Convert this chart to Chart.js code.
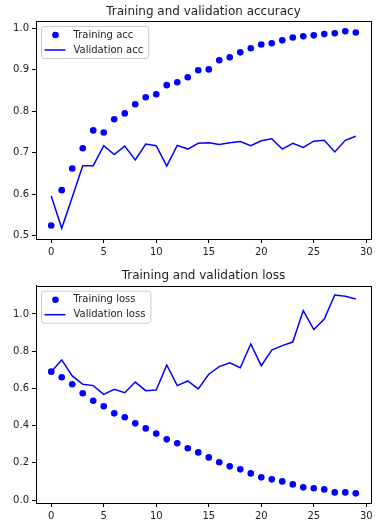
<!DOCTYPE html>
<html>
<head>
<meta charset="utf-8">
<script src="https://cdn.jsdelivr.net/npm/chart.js@4/dist/chart.umd.min.js"></script>
<style>
    html, body { margin: 0; padding: 0; background: #fff; }
    canvas { display: block; }
</style>
</head>
<body>
<canvas id="accChart" width="384" height="262"></canvas>
<canvas id="lossChart" width="384" height="269"></canvas>
<script>
const epochs = [0, 1, 2, 3, 4, 5, 6, 7, 8, 9, 10, 11, 12, 13, 14, 15, 16, 17, 18, 19, 20, 21, 22, 23, 24, 25, 26, 27, 28, 29];

const trainAcc = [0.525, 0.610, 0.662, 0.711, 0.754, 0.749, 0.781, 0.795, 0.817, 0.834,
    0.841, 0.863, 0.870, 0.882, 0.899, 0.901, 0.923, 0.930, 0.942, 0.952,
    0.961, 0.964, 0.971, 0.978, 0.981, 0.983, 0.986, 0.988, 0.993, 0.990];
const valAcc = [0.596, 0.518, 0.593, 0.669, 0.669, 0.717, 0.696, 0.716, 0.683, 0.721,
    0.717, 0.668, 0.718, 0.709, 0.723, 0.724, 0.720, 0.724, 0.727, 0.717,
    0.729, 0.734, 0.709, 0.723, 0.713, 0.728, 0.730, 0.702, 0.730, 0.740];

const trainLoss = [0.690, 0.660, 0.622, 0.574, 0.534, 0.504, 0.466, 0.445, 0.412, 0.385,
    0.357, 0.326, 0.305, 0.278, 0.256, 0.229, 0.203, 0.181, 0.165, 0.143,
    0.122, 0.111, 0.100, 0.084, 0.068, 0.063, 0.057, 0.041, 0.041, 0.036];
const valLoss = [0.690, 0.753, 0.667, 0.622, 0.615, 0.568, 0.595, 0.577, 0.634, 0.588,
    0.591, 0.726, 0.615, 0.640, 0.597, 0.676, 0.717, 0.738, 0.711, 0.839,
    0.722, 0.806, 0.830, 0.849, 1.018, 0.916, 0.973, 1.102, 1.095, 1.081];

const xTicks = [0, 5, 10, 15, 20, 25, 30];
const accTicks = [0.5, 0.6, 0.7, 0.8, 0.9, 1.0];
const lossTicks = [0.0, 0.2, 0.4, 0.6, 0.8, 1.0];

const FONT = 'DejaVu Sans';
const TEXT = '#222';

// moldura completa + título + legenda dentro do eixo (estilo matplotlib)
const mplPlugin = {
    id: 'mpl',
    afterDraw(chart, args, opts) {
        const ctx = chart.ctx;
        const area = chart.chartArea;
        ctx.save();

        ctx.strokeStyle = '#000';
        ctx.lineWidth = 1;
        ctx.strokeRect(Math.round(area.left) + 0.5, Math.round(area.top) + 0.5,
            Math.round(area.right - area.left), Math.round(area.bottom - area.top));

        ctx.fillStyle = TEXT;
        ctx.font = `12px "${FONT}"`;
        ctx.textAlign = 'center';
        ctx.textBaseline = 'middle';
        ctx.fillText(opts.title, (area.left + area.right) / 2, opts.titleY);

        // legenda
        ctx.font = `10px "${FONT}"`;
        const labels = chart.data.datasets.map(d => d.label);
        const textW = Math.max(...labels.map(l => ctx.measureText(l).width));
        const bx = area.left + 5.5;
        const by = area.top + 5.5;
        const bw = 32 + textW + 5.5;
        const bh = 32;

        ctx.beginPath();
        ctx.roundRect(bx, by, bw, bh, 2.5);
        ctx.fillStyle = 'rgba(255,255,255,0.8)';
        ctx.fill();
        ctx.strokeStyle = '#cccccc';
        ctx.stroke();

        const rows = [by + 8.5, by + 23.5];
        ctx.fillStyle = '#0000ff';
        ctx.beginPath();
        ctx.arc(bx + 14, rows[0], 3.3, 0, Math.PI * 2);
        ctx.fill();

        ctx.strokeStyle = '#0000ff';
        ctx.lineWidth = 1.5;
        ctx.beginPath();
        ctx.moveTo(bx + 3, rows[1]);
        ctx.lineTo(bx + 24, rows[1]);
        ctx.stroke();

        ctx.fillStyle = TEXT;
        ctx.textAlign = 'left';
        labels.forEach((l, i) => ctx.fillText(l, bx + 32, rows[i]));

        ctx.restore();
    }
};

const ChartsPage = {
    init() {
        this.renderChart('accChart', {
            title: 'Training and validation accuracy',
            titleY: 12,
            padTop: 21,
            xHeight: 23,
            labels: ['Training acc', 'Validation acc'],
            train: trainAcc,
            val: valAcc,
            yTicks: accTicks,
            yMin: 0.4923,
            yMax: 1.0176
        });

        this.renderChart('lossChart', {
            title: 'Training and validation loss',
            titleY: 13.7,
            padTop: 23.7,
            xHeight: 28,
            labels: ['Training loss', 'Validation loss'],
            train: trainLoss,
            val: valLoss,
            yTicks: lossTicks,
            yMin: -0.016,
            yMax: 1.152
        });
    },

    axisStyle() {
        return {
            grid: {
                display: true,
                drawOnChartArea: false,
                drawTicks: true,
                tickLength: 4,
                color: '#000'
            },
            border: { display: true, color: '#000', width: 1 },
            ticks: {
                color: TEXT,
                padding: 3,
                font: { family: FONT, size: 10 }
            }
        };
    },

    renderChart(id, cfg) {
        const canvas = document.getElementById(id);
        const xAxis = this.axisStyle();
        const yAxis = this.axisStyle();

        xAxis.ticks.maxRotation = 0;
        yAxis.ticks.callback = v => v.toFixed(1);

        new Chart(canvas, {
            type: 'line',
            data: {
                datasets: [
                    {
                        label: cfg.labels[0],
                        data: epochs.map((e, i) => ({ x: e, y: cfg.train[i] })),
                        showLine: false,
                        pointRadius: 3.3,
                        pointBackgroundColor: '#0000ff',
                        pointBorderWidth: 0,
                        borderColor: '#0000ff'
                    },
                    {
                        label: cfg.labels[1],
                        data: epochs.map((e, i) => ({ x: e, y: cfg.val[i] })),
                        borderColor: '#0000ff',
                        borderWidth: 1.5,
                        pointRadius: 0,
                        tension: 0
                    }
                ]
            },
            options: {
                responsive: false,
                animation: false,
                devicePixelRatio: 1,
                layout: { padding: { top: cfg.padTop, right: 13, left: 0, bottom: 0 } },
                scales: {
                    x: {
                        type: 'linear',
                        min: -1.45,
                        max: 30.45,
                        ...xAxis,
                        afterBuildTicks: s => { s.ticks = xTicks.map(v => ({ value: v })); },
                        afterFit: s => { s.height = cfg.xHeight; }
                    },
                    y: {
                        type: 'linear',
                        min: cfg.yMin,
                        max: cfg.yMax,
                        ...yAxis,
                        afterBuildTicks: s => { s.ticks = cfg.yTicks.map(v => ({ value: v })); },
                        afterFit: s => { s.width = 36; }
                    }
                },
                plugins: {
                    legend: { display: false },
                    title: { display: false },
                    tooltip: { enabled: false },
                    mpl: { title: cfg.title, titleY: cfg.titleY }
                }
            },
            plugins: [mplPlugin]
        });
    }
};

ChartsPage.init();
</script>
</body>
</html>
